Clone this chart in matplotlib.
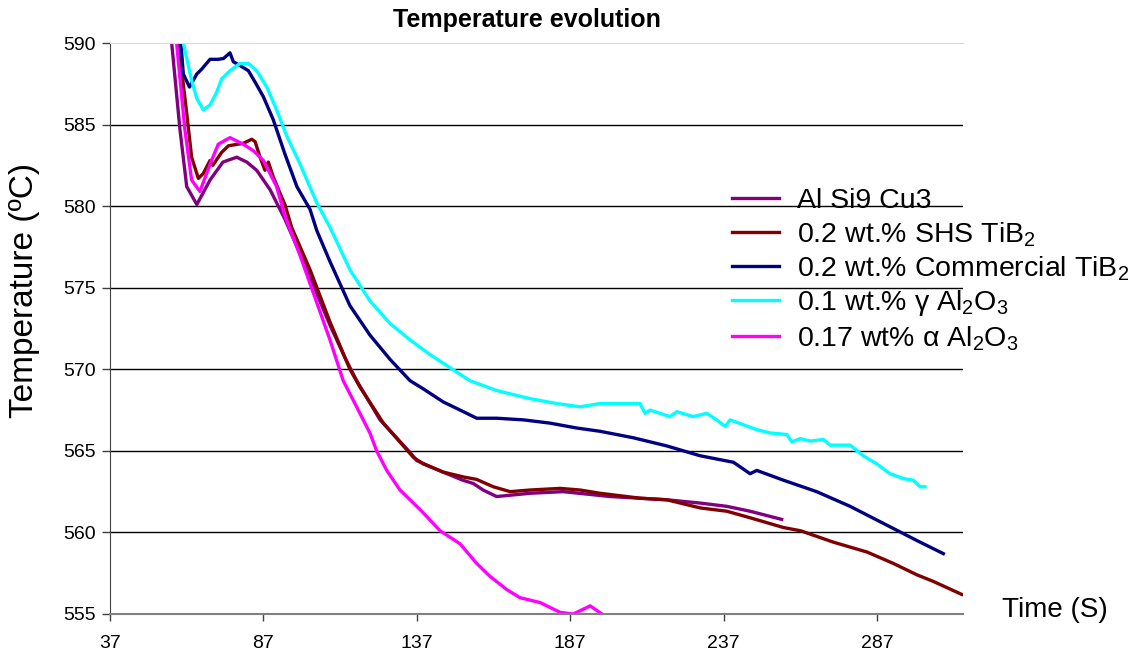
import matplotlib
matplotlib.use("Agg")
import matplotlib.pyplot as plt

plt.rcParams["font.family"] = ["Liberation Sans", "DejaVu Sans"]
plt.rcParams["mathtext.fontset"] = "custom"
plt.rcParams["mathtext.rm"] = "Liberation Sans"
plt.rcParams["mathtext.it"] = "Liberation Sans:italic"

# time (s) / temperature (C)
t_base = [54.6, 57.1, 59.8, 62.0, 65.3, 69.6, 73.8, 78.3, 81.6, 84.8, 89.2, 94.0, 98.9, 103.8,
          108.7, 113.6, 117.4, 125.0, 134.8, 137.0, 145.5, 152.0, 155.4, 158.6, 163.0, 173.9,
          184.7, 200.0, 218.5, 229.3, 238.0, 245.6, 255.9]
temp_base = [595.0, 590.0, 584.7, 581.2, 580.1, 581.6, 582.7, 583.0, 582.7, 582.2, 581.0, 579.2,
             577.1, 574.9, 572.7, 570.7, 569.3, 566.9, 564.9, 564.4, 563.7, 563.2, 563.0, 562.6,
             562.2, 562.4, 562.5, 562.2, 562.0, 561.8, 561.6, 561.3, 560.8]

t_shs = [56.2, 59.3, 62.0, 63.6, 65.8, 67.4, 69.6, 70.5, 73.4, 75.6, 80.4, 83.2, 84.3, 85.9, 87.5,
         88.6, 90.2, 92.4, 94.0, 96.2, 102.2, 108.7, 115.2, 118.5, 126.1, 135.9, 139.1, 145.6,
         152.2, 156.5, 161.9, 167.4, 173.9, 183.7, 190.2, 196.7, 209.7, 218.5, 229.4, 238.0,
         245.6, 256.5, 262.1, 272.8, 283.7, 292.3, 300.0, 305.3, 314.6]
temp_shs = [595.0, 590.0, 585.7, 583.0, 581.7, 582.0, 582.8, 582.5, 583.3, 583.7, 583.85, 584.1,
            583.95, 583.0, 582.2, 582.7, 581.8, 580.8, 580.1, 578.7, 576.1, 572.9, 570.0, 568.9,
            566.7, 564.6, 564.2, 563.7, 563.4, 563.25, 562.8, 562.5, 562.6, 562.7, 562.6, 562.4,
            562.1, 562.0, 561.5, 561.3, 560.9, 560.3, 560.1, 559.4, 558.8, 558.1, 557.4, 557.0,
            556.2]

t_comm = [59.0, 60.1, 60.9, 62.9, 65.3, 66.9, 69.6, 72.3, 74.0, 76.1, 77.2, 80.4, 82.1, 84.3,
          87.0, 90.2, 94.0, 97.9, 102.2, 104.4, 108.7, 115.2, 121.7, 128.3, 134.8, 139.1, 145.6,
          152.2, 156.5, 163.0, 171.7, 180.4, 189.1, 196.7, 207.6, 218.5, 229.3, 240.2, 245.6,
          247.8, 256.5, 267.3, 278.2, 289.1, 300.0, 308.6]
temp_comm = [595.0, 590.0, 588.1, 587.3, 588.1, 588.4, 589.0, 589.0, 589.05, 589.4, 588.85,
             588.5, 588.3, 587.6, 586.7, 585.3, 583.2, 581.2, 579.8, 578.5, 576.6, 573.9, 572.1,
             570.6, 569.3, 568.8, 568.0, 567.4, 567.0, 567.0, 566.9, 566.7, 566.4, 566.2, 565.8,
             565.3, 564.7, 564.3, 563.6, 563.8, 563.2, 562.5, 561.6, 560.55, 559.5, 558.7]

t_gamma = [59.5, 60.9, 63.6, 65.3, 67.4, 69.6, 71.8, 73.4, 76.1, 79.4, 82.1, 84.8, 88.1, 91.3,
           94.6, 98.9, 104.4, 108.7, 115.2, 121.7, 128.3, 134.8, 141.3, 147.8, 154.3, 163.0,
           173.9, 182.6, 190.2, 196.7, 209.7, 211.4, 213.0, 219.5, 221.7, 227.1, 231.5, 234.7,
           237.5, 239.1, 243.4, 247.8, 252.1, 257.6, 259.2, 261.9, 265.2, 269.5, 271.7, 278.2,
           282.5, 286.9, 291.2, 295.6, 298.8, 301.0, 302.6]
temp_gamma = [595.0, 590.0, 587.7, 586.6, 585.9, 586.2, 587.0, 587.8, 588.3, 588.75, 588.75,
              588.3, 587.3, 585.9, 584.3, 582.6, 580.2, 578.7, 576.1, 574.2, 572.8, 571.8,
              570.9, 570.1, 569.3, 568.7, 568.2, 567.9, 567.7, 567.9, 567.9, 567.3, 567.5, 567.1,
              567.4, 567.1, 567.3, 566.9, 566.5, 566.9, 566.6, 566.3, 566.1, 566.0, 565.55,
              565.75, 565.6, 565.7, 565.35, 565.35, 564.7, 564.2, 563.6, 563.3, 563.2, 562.8,
              562.8]

t_alpha = [56.2, 58.7, 61.4, 63.6, 66.3, 70.1, 72.3, 76.1, 80.4, 83.7, 87.0, 91.3, 94.0, 98.9,
           103.8, 108.7, 113.0, 115.2, 121.7, 123.9, 127.2, 131.5, 135.9, 139.1, 144.6, 151.1,
           156.5, 160.9, 166.3, 170.6, 177.2, 183.7, 188.0, 193.5, 197.3]
temp_alpha = [595.0, 590.0, 584.7, 581.6, 580.9, 582.8, 583.8, 584.2, 583.8, 583.4, 582.8, 581.2,
              579.4, 577.0, 574.4, 571.8, 569.3, 568.5, 566.1, 565.0, 563.8, 562.6, 561.8,
              561.2, 560.1, 559.3, 558.1, 557.3, 556.5, 556.0, 555.7, 555.1, 555.0, 555.5, 555.0]

labels = ["Al Si9 Cu3",
          r"0.2 wt.% SHS TiB$_\mathrm{2}$",
          r"0.2 wt.% Commercial TiB$_\mathrm{2}$",
          r"0.1 wt.% γ Al$_\mathrm{2}$O$_\mathrm{3}$",
          r"0.17 wt% α Al$_\mathrm{2}$O$_\mathrm{3}$"]
colors = ["#800080", "#800000", "#000080", "#00ffff", "#ff00ff"]
series = [(t_base, temp_base), (t_shs, temp_shs), (t_comm, temp_comm),
          (t_gamma, temp_gamma), (t_alpha, temp_alpha)]
xticks = [37, 87, 137, 187, 237, 287]
yticks = [555, 560, 565, 570, 575, 580, 585, 590]

fig = plt.figure(figsize=(11.45, 6.54), dpi=100)
ax = fig.add_axes([110 / 1145, 40 / 654, 853 / 1145, 571 / 654])

for (t, temp), c, lab in zip(series, colors, labels):
    ax.plot(t, temp, color=c, lw=2.4, label=lab, solid_joinstyle="round")

ax.set_xlim(37, 315)
ax.set_ylim(555, 590)
ax.set_xticks(xticks)
ax.set_yticks(yticks)
for y in yticks[1:-1]:
    ax.axhline(y, color="black", lw=1.0, zorder=0)

ax.spines["right"].set_visible(False)
ax.spines["top"].set_color("#d9d9d9")
ax.spines["left"].set_color("#404040")
ax.spines["bottom"].set_color("#808080")
ax.spines["bottom"].set_linewidth(1.5)
ax.tick_params(axis="x", length=5, width=1, color="#404040", labelsize=14, pad=10)
ax.tick_params(axis="y", length=6, width=1, color="#404040", labelsize=14, pad=4)

ax.set_ylabel("Temperature (ºC)", fontsize=24)
ax.yaxis.set_label_coords(-0.082, 0.567)

fig.text(0.921, 0.067, "Time (S)", fontsize=20, ha="center", va="center")
fig.text(0.46, 0.97, "Temperature evolution", fontsize=18, fontweight="bold",
         ha="center", va="center")

ax.legend(loc="upper left", bbox_to_anchor=(732 / 1145, 0.712), bbox_transform=fig.transFigure,
          frameon=False, fontsize=20.5, borderpad=0, borderaxespad=0, handlelength=1.65,
          handletextpad=0.65, labelspacing=0.2)

fig.savefig("out.png", dpi=100)
